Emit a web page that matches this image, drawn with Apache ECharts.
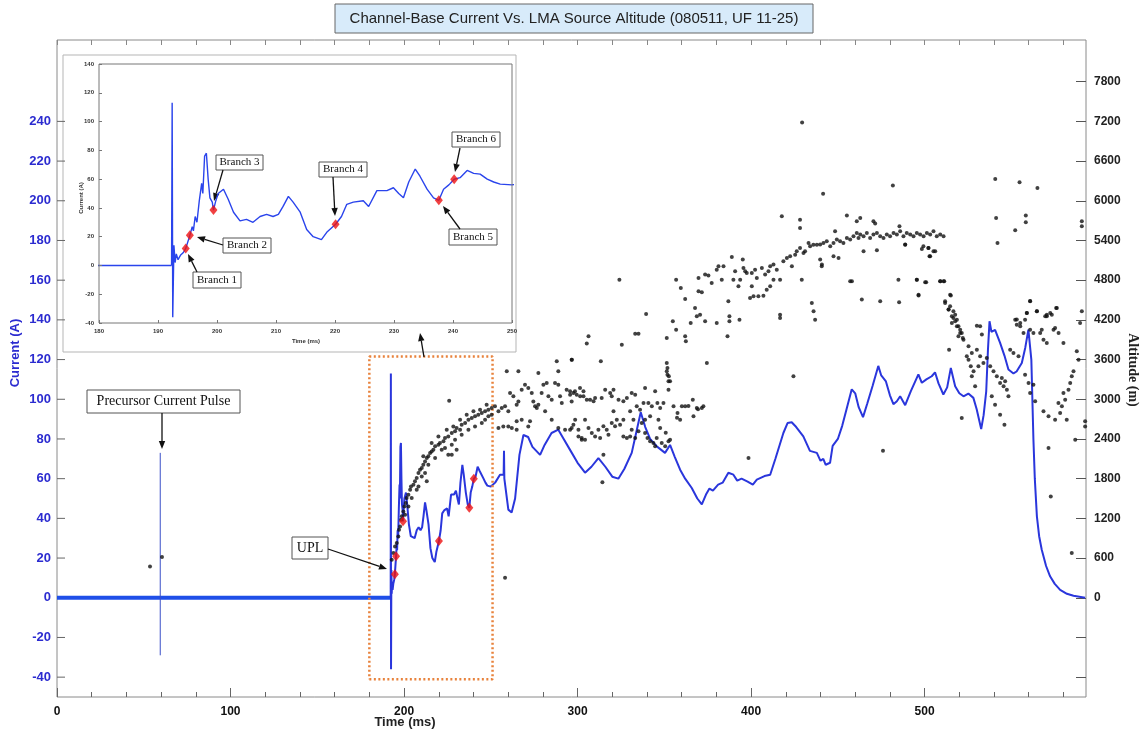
<!DOCTYPE html>
<html><head><meta charset="utf-8">
<script src="https://cdn.jsdelivr.net/npm/echarts@6/dist/echarts.min.js"></script>
<style>html,body{margin:0;padding:0;background:#fff}#c{width:1143px;height:734px}</style>
</head><body><div id="c"></div>
<script>
// ---------- tick labels ----------
const timeTicks = [0, 100, 200, 300, 400, 500];
const timeMinorTicks = [0,20,40,60,80,100,120,140,160,180,200,220,240,260,280,300,320,340,360,380,400,420,440,460,480,500,520,540,560,580];
const currentTicks = [-40,-20,0,20,40,60,80,100,120,140,160,180,200,220,240];
const altitudeTicks = [0,600,1200,1800,2400,3000,3600,4200,4800,5400,6000,6600,7200,7800];
const altitudeMinorTicks = [-1200,-600,0,600,1200,1800,2400,3000,3600,4200,4800,5400,6000,6600,7200,7800];
const insetTimeTicks = [180,190,200,210,220,230,240,250];
const insetCurrentTicks = [-40,-20,0,20,40,60,80,100,120,140];

// ---------- series values ----------
const baseline = [[0,0],[192.3,0]];
const precursorPulse = [[59.5,73],[59.5,-29]];
const current = [
[192.3,0],[192.4,113],[192.5,-36],[192.7,14],[192.9,2],[193.1,8],[193.4,4],[193.8,7],[194.3,9],[194.7,11.8],[195.4,20.9],[195.8,27],[196.0,24],[196.3,34],[196.6,30],[197.0,45],[197.4,57],[197.6,50],[197.9,76],[198.2,78],[198.5,60],[198.8,47],[199.2,44],[199.4,38.5],[199.8,45],[200.2,50],[201.1,53],[201.9,46],[202.8,37],[203.9,31],[205.0,32],[206.1,30],[207.3,34],[208.4,35.5],[209.5,34],[210.4,35.5],[211.2,41],[212.1,48],[212.9,44],[214.1,37],[215.2,25],[216.3,20],[217.7,18],[218.6,23],[220.1,28.6],[221.1,34],[222.0,42.5],[223.1,44],[224.8,45],[225.7,41],[227.1,52],[228.8,52],[229.9,54],[230.8,50],[231.6,47],[232.5,58],[233.6,67],[234.4,62],[235.6,53],[236.7,47],[237.6,45.3],[238.4,53],[239.3,56],[240.2,59.9],[241.2,61],[242.4,66],[243.5,64],[244.6,63.5],[245.8,60],[246.9,58],[248.0,56.5],[250.0,56],
[252.5,58],[255.3,62],[257.4,62],[257.6,74],[257.8,60],[260.1,44.4],[262,43],[264,50],[266.5,72],[268.8,82],[271.5,81],[274,76],[278.4,72],[281,77],[285,83],[288.9,84.7],[292,80],[296,74],[300,68],[304.3,63],
[308,66],[312,70.4],[316,66],[320,61],[323.5,60],[327,65],[331.2,73],[334,84],[336.4,93.5],[339,86],[341.8,80],[346,76],[350.4,73],[353.3,77],[356,71],[359.1,64.5],[362,60],[365.8,55.3],[369,50],[371.6,47],[374,52],[376,55],[378,54],[381,57],[383.6,58],[386.9,63],[389.8,62],[392,59],[394.5,60],[398,58.5],[401,57],[403.3,59.5],[407.7,61.3],[411,62],[414,70],[418.6,83],[421,88],[423.4,88.4],[426,86],[430.1,81.3],[433.9,74],[437.9,73],[440,69],[441.6,70],[443,67],[445.5,68],[447,76.5],[450,80],[452.5,86.6],[455,95],[458,105],[460,103],[462,96],[464.5,91],[467,98],[470,106.7],[473.3,116.8],[475,112],[477.7,109],[480,102],[482,97.5],[484,99],[485.9,101.5],[488.8,97],[492,104],[496.4,112.5],[498.4,108.3],[501,110],[504.1,111.6],[506,113.6],[508,108],[510.8,102.4],[513,106],[515.1,115.8],[517.6,106.6],[520,103],[522.4,101.5],[525.2,102.9],[528.1,100.7],[530,95],[532.6,85],[534,92],[535.5,104],[536.5,125],[537.4,139.3],[538.5,134],[540.6,135],[543.5,128.4],[546,122],[548.3,115],[551.2,113],[553,114],[556,118.3],[558,126],[559.8,135.1],[560.8,136],[561.5,120],[562.7,79.7],[563.5,60],[564.7,41],[566,31],[567.5,24.2],[570,16],[572.3,10.8],[575,7],[578.1,4],[582,2],[585.8,1],[592.5,0]
];
const branches = [[194.7,11.8],[195.4,20.9],[199.4,38.5],[220.1,28.6],[237.6,45.3],[240.2,59.9]];
const branchLabels = ['Branch 1','Branch 2','Branch 3','Branch 4','Branch 5','Branch 6'];
const zoomWindow = [[180,-41],[251,-41],[251,121.5],[180,121.5],[180,-41]];
const lmaSources = [
[53.6,473],[60.5,615],[226.0,2979],[258.2,302],
[192.9,574],[193.9,675],[194.8,776],[195.8,826],[196.7,927],[197.1,1028],[197.7,1078],[198.3,1179],[198.7,1230],[199.6,1305],[200.2,1381],[201.0,1431],[201.5,1507],[202.5,1557],[203.5,1633],[204.0,1683],[205.4,1708],[206.3,1759],[207.3,1809],[208.3,1885],[209.2,1935],[210.2,1960],[211.1,2011],[212.1,2061],[213.1,2112],[214.0,2137],[215.0,2187],[215.9,2212],[216.9,2238],[217.9,2288],[219.8,2313],[220.7,2338],[222.7,2364],[223.6,2414],[225.5,2439],[227.5,2490],[229.4,2515],[230.3,2565],[232.3,2540],[233.2,2616],[235.2,2641],[237.1,2691],[239.0,2716],[240.9,2742],[242.8,2767],[244.8,2792],[246.7,2817],[248.6,2842],[250.5,2868],[252.4,2893],
[200.6,1255],[202.5,1381],[204.4,1507],[208.3,1683],[210.2,1834],[212.1,1885],[214.0,2011],[217.9,2112],[221.7,2238],[223.6,2263],[227.5,2313],[229.4,2389],[233.2,2464],[237.1,2540],[240.9,2590],[244.8,2641],[246.7,2691],[248.6,2742],[250.5,2767],[207.3,1633],[211.1,2137],[215.9,2338],[219.8,2439],[224.6,2540],[228.4,2590],[232.3,2691],[236.1,2767],[240.0,2817],[243.8,2842],[247.6,2918],[213.1,1759],[225.5,2162],[227.5,2162],[230.3,2238],
[254.4,2817],[256.3,2868],[258.2,2893],[260.1,2817],[261.1,3094],[263.0,3044],[264.9,2918],[265.9,2968],[267.8,3145],[269.7,3220],[271.6,3170],[273.6,3094],[274.5,2968],[275.5,2893],[277.4,2918],[279.3,3094],[280.3,3220],[282.2,3246],[283.2,3044],[285.1,2994],[287.0,3246],[288.9,3220],[289.9,3044],[290.9,2943],[293.7,3145],[295.7,3069],[296.6,2968],[298.5,3120],[301.4,3170],[303.4,3044],[254.4,2565],[257.2,2590],[260.1,2590],[262.1,2565],[264.9,2540],[271.6,2590],[276.5,2868],[281.3,2817],[285.1,2691],[288.9,2565],[292.8,2540],[296.6,2565],[300.5,2540],[302.4,2389],[259.2,3422],[265.9,3422],[277.4,3397],[288.0,3573],[288.9,3422],[296.6,3598],[272.6,2666],[267.8,2691],[264.9,2666],
[295.7,3120],[297.6,3094],[299.5,3069],[301.5,3044],[303.4,3120],[305.3,2994],[307.2,2994],[309.2,2969],[310.1,3019],[313.9,3019],[315.9,3145],[318.8,3094],[319.7,3044],[320.7,3145],[323.6,2994],[326.4,2969],[328.4,3019],[331.2,3094],[333.2,3069],[334.1,2893],[336.0,2843],[338.9,3170],[340.8,2943],[342.8,2893],[344.7,3120],[346.0,2943],[347.6,2868],[349.5,2943],[353.3,3271],[355.3,2893],[357.6,2792],[359.1,2691],[360.1,2893],[362.0,2893],[366.4,2994],[366.8,2742],[368.7,2868],[371.6,2868],[372.5,2893],
[295.7,2540],[298.6,2691],[300.5,2439],[302.4,2414],[304.3,2389],[306.3,2565],[308.2,2490],[310.1,2439],[312.0,2540],[314.9,2591],[316.8,2540],[317.8,2465],[319.7,2641],[320.7,2817],[322.6,2691],[324.5,2616],[326.4,2439],[328.4,2414],[330.3,2439],[331.2,2540],[333.2,2414],[335.1,2515],[337.0,2641],[338.9,2490],[340.3,2414],[341.8,2364],[343.7,2339],[344.7,2288],[345.6,2414],[347.6,2565],[348.5,2339],[350.5,2288],[352.4,2364],[353.3,2389],[346.6,2691],[341.8,2742],[338.9,2691],[332.2,2691],[330.3,2817],[326.4,2691],[321.6,2591],[313.0,2414],[304.3,2691],[297.6,2616],[338.0,2943],[363.9,2898],[369.4,2848],[357.3,2722],[350.8,2495],
[351.4,3422],[351.8,3372],[352.4,3271],[352.4,3145],[351.4,3548],[351.8,3473],[352.6,3347],[351.4,3926],
[324.1,4808],[339.5,4289],[296.7,3599],[306.3,3951],[305.3,3841],[313.4,3573],[325.5,3825],[333.2,3992],[335.1,3992],[356.8,4808],[359.5,4682],[362.0,4516],[354.9,4178],[356.8,4052],[362.0,3951],[362.4,3876],[365.2,4153],[367.7,4380],[368.7,4254],[370.6,4279],[369.7,4833],[369.7,4632],[371.6,4617],[373.5,4178],[374.5,3548],[373.5,4884],[375.4,4869],[377.3,4758],[380.2,4959],[381.2,5010],[384.1,5010],[383.1,4808],[380.2,4153],[386.4,3951],[386.9,4481],[387.5,4254],[387.5,4178],[388.9,5151],[390.8,4934],[389.8,4808],[392.7,4707],[393.7,4808],[393.3,4203],[395.2,5111],[397.5,4909],[395.6,4985],[396.6,4934],[400.4,4909],[402.3,4959],[403.3,4833],[406.2,4985],[408.1,4884],[410.0,4934],[411.0,5010],[412.9,5035],[414.8,4959],[416.7,4808],[418.6,5085],[420.6,5136],[422.5,5161],[423.5,5010],[425.4,5186],[426.3,5237],[428.2,5287],[430.2,5211],[431.1,5237],[433.1,5363],[434.0,5312],[435.9,5337],[437.9,5337],[400.4,4707],[401.4,4556],[404.2,4556],[407.1,4566],[409.0,4657],[411.0,4707],[412.9,4808],[399.4,4531],[416.7,4279],[416.7,4229],[417.7,5766],[428.2,5715],[428.2,5589],[429.2,4808],[435.0,4455],[436.0,4329],[436.9,4203],[440.7,5010],[441.5,6108],[424.4,3347],[398.5,2112],[314.3,1744],[314.9,2162],[429.4,7182],
[439.8,5338],[441.7,5363],[443.6,5388],[445.6,5312],[447.5,5363],[449.4,5413],[451.3,5388],[453.2,5363],[455.2,5438],[457.1,5413],[459.0,5464],[460.9,5514],[461.9,5438],[462.9,5489],[464.8,5464],[466.7,5514],[468.6,5438],[470.5,5489],[472.5,5514],[474.4,5464],[476.3,5438],[478.2,5489],[480.1,5464],[482.1,5514],[484.0,5489],[485.9,5539],[487.8,5464],[489.7,5514],[491.7,5489],[493.6,5464],[495.5,5514],[497.4,5489],[499.4,5464],[501.3,5514],[503.2,5489],[505.1,5539],[507.0,5464],[509.0,5489],[510.9,5464],
[464.8,5237],[472.5,5252],[488.8,5338],[498.4,5272],[502.2,5287],[506.1,5237],[502.8,5161],[447.5,5161],[450.4,5136],[439.8,5111],[440.8,5035],[460.9,5690],[462.9,5741],[470.5,5690],[471.5,5655],[455.2,5776],[448.4,5539],[485.5,5615],[481.7,6230],[457.1,4783],[458.1,4783],[484.9,4808],[495.5,4808],[500.9,4768],[509.0,4783],[511.3,4783],[463.8,4506],[474.4,4481],[485.3,4466],[496.5,4567],[515.1,4567],[476.0,2220],
[511.8,4481],[513.8,4355],[516.6,4229],[518.6,4103],[520.5,4002],[522.0,3926],[540.7,6330],[554.7,6280],[565.0,6194],[541.2,5741],[542.0,5363],[558.3,5776],[558.3,5675],[552.2,5554],[560.8,4486],[590.6,5690],[590.6,5615],
[488.8,5337],[499.3,5312],[502.2,5287],[505.1,5237],[503.2,5161],[495.5,4808],[500.3,4768],[509.0,4783],[510.9,4783],[496.5,4581],[514.7,4581],[511.8,4455],[513.8,4355],[515.7,4254],[517.6,4178],[519.5,4103],[521.4,4002],[522.4,3901],[514.7,4405],[516.6,4329],[518.6,4203],[520.5,4052],[517.6,4279],[515.7,4153],[519.5,3951],[525.3,3800],[527.2,3699],[530.1,3750],[532.0,3649],[533.0,3977],[532.0,4103],[530.1,4113],[533.9,3548],[535.8,3624],[526.6,3498],[527.2,3347],[529.1,3195],[521.4,2717],[514.1,3750],[524.3,3649],[525.3,3599],[528.2,3422],[531.0,3498],[537.8,3498],[539.7,3422],[541.6,3347],[543.5,3246],[545.5,3195],[547.4,3145],[548.3,3044],[546.4,3271],[544.5,3321],[540.6,2918],[543.5,2767],[546.0,2616],[538.7,3044],
[552.2,4203],[553.1,4128],[555.1,4153],[557.9,4203],[558.9,4304],[560.8,4481],[564.7,4329],[569.5,4254],[570.4,4279],[573.3,4279],[575.8,4380],[566.6,4002],[568.5,3901],[570.4,3851],[575.2,4077],[580.0,3851],[549.3,3750],[551.2,3699],[554.1,3649],[557.9,3372],[559.9,3246],[560.8,3095],[562.7,3221],[563.7,2969],[568.5,2817],[571.4,2742],[575.2,2691],[578.1,2792],[581.0,2994],[582.9,3145],[584.8,3347],[585.8,3422],[580.0,3095],[581.9,2691],[579.1,2893],[583.9,3246],[577.1,2943],[571.4,2263],[572.7,1532],[584.8,675],[586.8,2389],[587.7,3725],[588.7,3599],[592.5,2666],[592.5,2590],[590.6,4329],[589.6,4153],
[553.1,4204],[555.1,4103],[557.0,4002],[558.9,4304],[560.8,4052],[562.7,4002],[564.7,4330],[567.5,4052],[570.4,4254],[572.4,4304],[574.3,4052],[576.2,4380],[577.2,4002]
];

// ---------- layout ----------
const MAIN = {left:57, top:40, width:1029, height:657};
const INSET = {left:99, top:64, width:413, height:259};
const blue = '#2a36dc';
const numFont = 'Liberation Sans';

function arrow(x1,y1,x2,y2){
  const a = Math.atan2(y2-y1,x2-x1), L=8, W=3.2;
  const bx = x2 - L*Math.cos(a), by = y2 - L*Math.sin(a);
  const px = -Math.sin(a)*W, py = Math.cos(a)*W;
  return [
    {type:'line', z:20, shape:{x1:x1,y1:y1,x2:bx,y2:by}, style:{stroke:'#111', lineWidth:1.3}},
    {type:'polygon', z:20, shape:{points:[[x2,y2],[bx+px,by+py],[bx-px,by-py]]}, style:{fill:'#111'}}
  ];
}
function box(x,y,w,h,text,size){
  return [
    {type:'rect', z:19, shape:{x:x,y:y,width:w,height:h}, style:{fill:'#fff', stroke:'#555', lineWidth:1}},
    {type:'text', z:20, x:x+w/2, y:y+h/2, style:{text:text, x:0, y:0, align:'center', verticalAlign:'middle', font:size+'px "Liberation Serif", serif', fill:'#111'}}
  ];
}
const branchBoxes = [[193,272,48,16],[223,238,48,15],[216,155,47,15],[319,162,48,15],[449,229,48,16],[452,132,48,15]];
const branchArrows = [[197,272,188,254],[223,245,197,237],[223,170,214,201],[333,177,335,216],[460,229,443,206],[460,148,455,172]];

let graphics = [];
graphics.push({type:'rect', z:1, shape:{x:63,y:55,width:453,height:297}, style:{fill:'#fff', stroke:'#b5b5b5', lineWidth:1}});
graphics.push({type:'rect', z:25, shape:{x:INSET.left,y:INSET.top,width:INSET.width,height:INSET.height}, style:{fill:'none', stroke:'#777', lineWidth:1}});
graphics.push({type:'rect', z:19, shape:{x:335,y:4,width:478,height:29}, style:{fill:'#d8ebfa', stroke:'#666', lineWidth:1}});
graphics.push({type:'text', z:20, x:574, y:18.5, style:{text:'Channel-Base Current Vs. LMA Source Altitude (080511, UF 11-25)', x:0, y:0, align:'center', verticalAlign:'middle', font:'15px "Liberation Sans", Arial, sans-serif', fill:'#222'}});
graphics.push({type:'text', z:20, x:15, y:353, rotation:Math.PI/2, style:{text:'Current (A)', x:0,y:0, align:'center', verticalAlign:'middle', font:'bold 13px "Liberation Sans Narrow","Liberation Sans", sans-serif', fill:'#2b2bd0'}});
graphics.push({type:'text', z:20, x:1133, y:370, rotation:-Math.PI/2, style:{text:'Altitude (m)', x:0,y:0, align:'center', verticalAlign:'middle', font:'bold 14px "Liberation Serif", serif', fill:'#222'}});
graphics.push({type:'text', z:20, x:405, y:722, style:{text:'Time (ms)', x:0,y:0, align:'center', verticalAlign:'middle', font:'bold 13px "Liberation Sans Narrow","Liberation Sans", sans-serif', fill:'#222'}});
graphics.push({type:'text', z:20, x:81, y:198, rotation:Math.PI/2, style:{text:'Current (A)', x:0,y:0, align:'center', verticalAlign:'middle', font:'bold 6px "Liberation Sans", sans-serif', fill:'#333'}});
graphics.push({type:'text', z:20, x:306, y:341, style:{text:'Time (ms)', x:0,y:0, align:'center', verticalAlign:'middle', font:'bold 6px "Liberation Sans", sans-serif', fill:'#333'}});
graphics = graphics.concat(box(87,390,153,23,'Precursor Current Pulse',14), arrow(162,413,162,449));
graphics = graphics.concat(box(292,537,36,22,'UPL',14), arrow(328,549,387,569));
graphics = graphics.concat(arrow(424,357,420,333));
branchBoxes.forEach((b,i)=>{ graphics = graphics.concat(box(b[0],b[1],b[2],b[3],branchLabels[i],11), arrow.apply(null, branchArrows[i])); });

const plain = v => String(v);
const chart = echarts.init(document.getElementById('c'), null, {renderer:'canvas'});
chart.setOption({
  animation:false,
  backgroundColor:'#fff',
  grid:[
    Object.assign({show:true, borderColor:'#8a8a8a', borderWidth:1, backgroundColor:'transparent'}, MAIN),
    Object.assign({show:false}, INSET)
  ],
  xAxis:[
    {type:'value', gridIndex:0, min:0, max:593, position:'bottom', splitLine:{show:false},
     axisLine:{show:false, onZero:false}, axisTick:{show:true, inside:true, length:5, customValues:timeMinorTicks, lineStyle:{color:'#666'}},
     axisLabel:{customValues:timeTicks, formatter:plain, margin:9, color:'#111', fontWeight:'bold', fontSize:12, fontFamily:'Liberation Sans Narrow, Liberation Sans'}},
    {type:'value', gridIndex:0, min:0, max:593, position:'top', splitLine:{show:false},
     axisLine:{show:false, onZero:false}, axisTick:{show:true, inside:true, length:5, customValues:timeMinorTicks, lineStyle:{color:'#888'}}, axisLabel:{show:false}},
    {type:'value', gridIndex:1, min:180, max:250, interval:10, z:22, splitLine:{show:false},
     axisLine:{show:false, onZero:false}, axisTick:{show:true, inside:true, length:3, lineStyle:{color:'#777'}},
     axisLabel:{customValues:insetTimeTicks, formatter:plain, margin:5, color:'#333', fontWeight:'bold', fontSize:6, fontFamily:numFont}},
    {type:'value', gridIndex:0, min:0, max:593, position:'bottom', splitLine:{show:false},
     axisLine:{show:false, onZero:false}, axisTick:{show:true, inside:true, length:9, customValues:timeTicks, lineStyle:{color:'#666'}}, axisLabel:{show:false}}
  ],
  yAxis:[
    {type:'value', gridIndex:0, min:-50, max:281, position:'left', splitLine:{show:false},
     axisLine:{show:false, onZero:false}, axisTick:{show:false},
     axisLabel:{customValues:currentTicks, formatter:plain, margin:6, color:'#2b2bd0', fontWeight:'bold', fontSize:13, fontFamily:numFont}},
    {type:'value', gridIndex:0, min:-1500, max:8430, position:'right', splitLine:{show:false},
     axisLine:{show:false, onZero:false}, axisTick:{show:true, inside:true, length:10, customValues:altitudeMinorTicks, lineStyle:{color:'#555'}},
     axisLabel:{customValues:altitudeTicks, formatter:plain, margin:8, color:'#222', fontWeight:'bold', fontSize:12, fontFamily:numFont}},
    {type:'value', gridIndex:1, min:-40, max:140, interval:20, z:22, position:'left', splitLine:{show:false},
     axisLine:{show:false, onZero:false}, axisTick:{show:true, inside:true, length:3, lineStyle:{color:'#777'}},
     axisLabel:{customValues:insetCurrentTicks, formatter:plain, margin:5, color:'#333', fontWeight:'bold', fontSize:6, fontFamily:numFont}}
  ],
  series:[
    {type:'line', xAxisIndex:0, yAxisIndex:0, data:baseline, symbol:'none', z:3, lineStyle:{color:'#1f4fe8', width:4}},
    {type:'line', xAxisIndex:0, yAxisIndex:0, data:precursorPulse, symbol:'none', z:3, lineStyle:{color:'#3a4fc8', width:1}},
    {type:'line', xAxisIndex:0, yAxisIndex:0, data:current, symbol:'none', z:3, lineStyle:{color:blue, width:2}},
    {type:'line', xAxisIndex:0, yAxisIndex:0, data:zoomWindow, symbol:'none', z:4, lineStyle:{color:'#e8823c', width:2.5, type:[2,2.5]}},
    {type:'scatter', xAxisIndex:0, yAxisIndex:1, data:lmaSources, symbol:'circle', symbolSize:4, z:5, itemStyle:{color:'#111'}},
    {type:'scatter', xAxisIndex:0, yAxisIndex:0, data:branches, symbol:'diamond', symbolSize:[8,10], z:6, itemStyle:{color:'#ee1111'}},
    {type:'line', xAxisIndex:2, yAxisIndex:2, data:baseline, symbol:'none', z:21, clip:true, lineStyle:{color:'#2a44ec', width:1.6}},
    {type:'line', xAxisIndex:2, yAxisIndex:2, data:current, symbol:'none', z:21, clip:true, lineStyle:{color:'#2a44ec', width:1.4}},
    {type:'scatter', xAxisIndex:2, yAxisIndex:2, data:branches, symbol:'diamond', symbolSize:[8,10], z:22, itemStyle:{color:'#ee1111'}}
  ],
  graphic:{elements:graphics}
});
// left-axis ticks (pointing into the plot), placed through the axis scale
const leftTicks = currentTicks.map(v => {
  const y = chart.convertToPixel({yAxisIndex:0}, v);
  return {type:'line', z:2, shape:{x1:MAIN.left, y1:y, x2:MAIN.left+8, y2:y}, style:{stroke:'#666', lineWidth:1}};
});
chart.setOption({graphic:{elements:graphics.concat(leftTicks)}});
</script></body></html>
